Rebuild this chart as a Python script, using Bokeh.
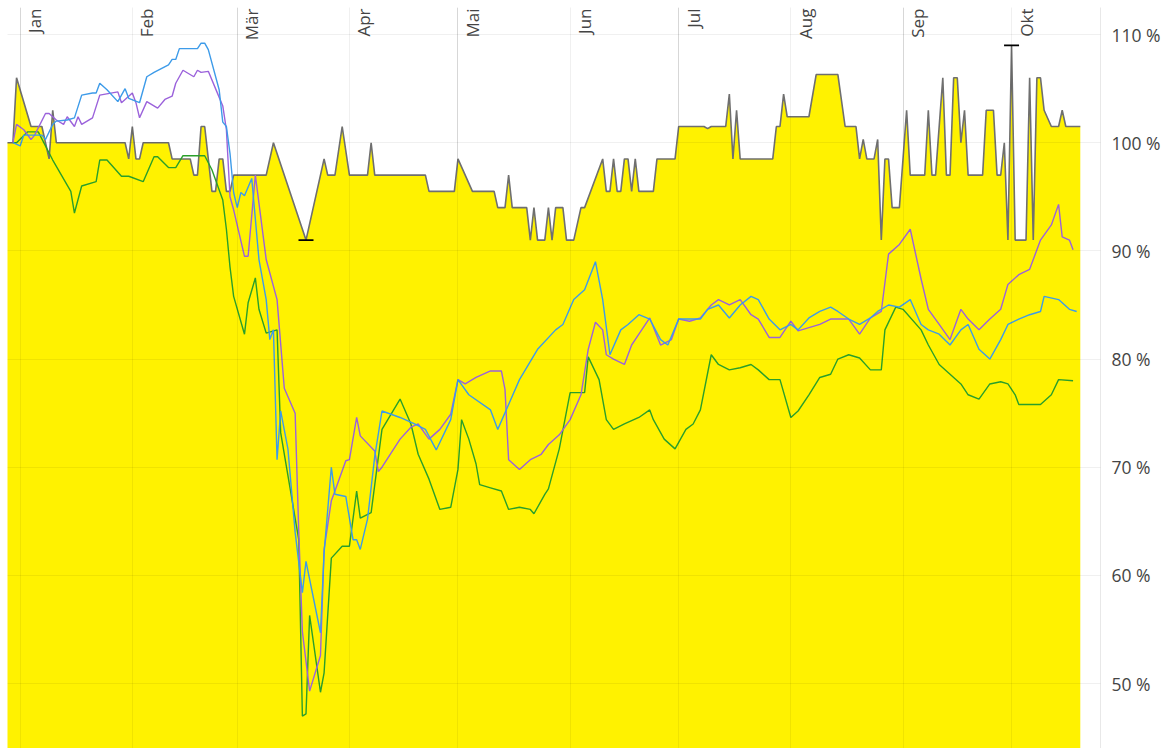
import math
import pandas as pd
from bokeh.plotting import figure
from bokeh.models import Range1d, FixedTicker, Grid, ColumnDataSource
from bokeh.core.properties import value
from bokeh.embed import file_html
from bokeh.resources import INLINE

# ---------------- data ----------------
month_starts = ["2020-01-01", "2020-02-01", "2020-03-01", "2020-04-01", "2020-05-01",
                "2020-06-01", "2020-07-01", "2020-08-01", "2020-09-01", "2020-10-01"]
month_labels = ["Jan", "Feb", "Mär", "Apr", "Mai", "Jun", "Jul", "Aug", "Sep", "Okt"]

y_ticks = [50, 60, 70, 80, 90, 100, 110]
y_tick_labels = ["50 %", "60 %", "70 %", "80 %", "90 %", "100 %", "110 %"]

gray_dates = ["2019-12-28", "2019-12-30", "2019-12-31", "2020-01-04", "2020-01-07", "2020-01-09",
              "2020-01-10", "2020-01-11", "2020-01-30", "2020-01-31", "2020-02-01", "2020-02-02",
              "2020-02-03", "2020-02-04", "2020-02-11", "2020-02-12", "2020-02-17", "2020-02-18",
              "2020-02-19", "2020-02-20", "2020-02-21", "2020-02-23", "2020-02-24", "2020-02-25",
              "2020-02-26", "2020-02-27", "2020-02-28", "2020-02-29", "2020-03-09", "2020-03-11",
              "2020-03-20", "2020-03-25", "2020-03-26", "2020-03-28", "2020-03-30", "2020-04-01",
              "2020-04-06", "2020-04-07", "2020-04-08", "2020-04-22", "2020-04-23", "2020-04-30",
              "2020-05-01", "2020-05-05", "2020-05-11", "2020-05-12", "2020-05-14", "2020-05-15",
              "2020-05-16", "2020-05-20", "2020-05-21", "2020-05-22", "2020-05-23", "2020-05-25",
              "2020-05-26", "2020-05-27", "2020-05-28", "2020-05-30", "2020-05-31", "2020-06-02",
              "2020-06-04", "2020-06-05", "2020-06-10", "2020-06-11", "2020-06-12", "2020-06-13",
              "2020-06-14", "2020-06-15", "2020-06-16", "2020-06-17", "2020-06-18", "2020-06-19",
              "2020-06-20", "2020-06-24", "2020-06-25", "2020-06-30", "2020-07-01", "2020-07-08",
              "2020-07-09", "2020-07-10", "2020-07-14", "2020-07-15", "2020-07-16", "2020-07-17",
              "2020-07-18", "2020-07-27", "2020-07-28", "2020-07-29", "2020-07-30", "2020-07-31",
              "2020-08-06", "2020-08-08", "2020-08-14", "2020-08-16", "2020-08-19", "2020-08-20",
              "2020-08-21", "2020-08-22", "2020-08-24", "2020-08-25", "2020-08-26", "2020-08-27",
              "2020-08-28", "2020-08-29", "2020-08-31", "2020-09-02", "2020-09-03", "2020-09-07",
              "2020-09-08", "2020-09-09", "2020-09-10", "2020-09-12", "2020-09-13", "2020-09-14",
              "2020-09-15", "2020-09-16", "2020-09-17", "2020-09-18", "2020-09-19", "2020-09-23",
              "2020-09-24", "2020-09-26", "2020-09-27", "2020-09-28", "2020-09-29", "2020-09-30",
              "2020-10-01", "2020-10-02", "2020-10-05", "2020-10-06", "2020-10-07", "2020-10-08",
              "2020-10-09", "2020-10-10", "2020-10-12", "2020-10-14", "2020-10-15", "2020-10-16",
              "2020-10-20"]
gray_values = [100, 100, 106, 101.5, 101.5, 98.5,
               103, 100, 100, 98.5, 101.5, 98.5,
               98.5, 100, 100, 98.5, 98.5, 97,
               97, 101.5, 101.5, 95.5, 95.5, 98.5,
               98.5, 95.5, 95.5, 97, 97, 100,
               91, 98.5, 97, 97, 101.5, 97,
               97, 100, 97, 97, 95.5, 95.5,
               98.5, 95.5, 95.5, 94, 94, 97,
               94, 94, 91, 94, 91, 91,
               94, 91, 94, 94, 91, 91,
               94, 94, 98.5, 95.5, 95.5, 98.5,
               95.5, 95.5, 98.5, 98.5, 95.5, 98.5,
               95.5, 95.5, 98.5, 98.5, 101.5, 101.5,
               101.3, 101.5, 101.5, 104.5, 98.5, 103,
               98.5, 98.5, 101.5, 101.5, 104.5, 102.4,
               102.4, 106.3, 106.3, 101.5, 101.5, 98.5,
               100.3, 98.5, 98.5, 100.3, 91, 98.5,
               98.5, 94, 94, 103, 97, 97,
               103, 97, 97, 106, 97, 97,
               106, 106, 100, 103, 97, 97,
               103, 103, 97, 97, 100, 91,
               109, 91, 91, 106, 91, 106,
               106, 103, 101.5, 101.5, 103, 101.5,
               101.5]

extreme_dates = ["2020-03-20", "2020-10-01"]
extreme_values = [91, 109]

blue_dates = ["2019-12-30", "2020-01-01", "2020-01-02", "2020-01-07", "2020-01-08", "2020-01-10",
              "2020-01-11", "2020-01-14", "2020-01-16", "2020-01-18", "2020-01-21", "2020-01-22",
              "2020-01-23", "2020-01-25", "2020-01-28", "2020-01-30", "2020-01-31", "2020-02-03",
              "2020-02-05", "2020-02-07", "2020-02-11", "2020-02-12", "2020-02-13", "2020-02-14",
              "2020-02-19", "2020-02-20", "2020-02-21", "2020-02-22", "2020-02-25", "2020-02-26",
              "2020-02-27", "2020-02-28", "2020-02-29", "2020-03-01", "2020-03-02", "2020-03-03",
              "2020-03-05", "2020-03-07", "2020-03-09", "2020-03-10", "2020-03-11", "2020-03-12",
              "2020-03-13", "2020-03-15", "2020-03-17", "2020-03-19", "2020-03-20", "2020-03-24",
              "2020-03-25", "2020-03-27", "2020-03-28", "2020-03-31", "2020-04-02", "2020-04-03",
              "2020-04-04", "2020-04-06", "2020-04-08", "2020-04-10", "2020-04-15", "2020-04-19",
              "2020-04-22", "2020-04-25", "2020-04-29", "2020-05-01", "2020-05-04", "2020-05-10",
              "2020-05-12", "2020-05-15", "2020-05-18", "2020-05-23", "2020-05-28", "2020-05-30",
              "2020-06-02", "2020-06-05", "2020-06-08", "2020-06-10", "2020-06-12", "2020-06-15",
              "2020-06-17", "2020-06-20", "2020-06-23", "2020-06-26", "2020-06-28", "2020-07-01",
              "2020-07-07", "2020-07-09", "2020-07-12", "2020-07-15", "2020-07-18", "2020-07-21",
              "2020-07-23", "2020-07-26", "2020-07-29", "2020-08-01", "2020-08-03", "2020-08-06",
              "2020-08-09", "2020-08-12", "2020-08-14", "2020-08-17", "2020-08-20", "2020-08-23",
              "2020-08-25", "2020-08-28", "2020-08-31", "2020-09-03", "2020-09-06", "2020-09-08",
              "2020-09-11", "2020-09-14", "2020-09-17", "2020-09-19", "2020-09-22", "2020-09-25",
              "2020-09-28", "2020-09-30", "2020-10-03", "2020-10-06", "2020-10-09", "2020-10-10",
              "2020-10-14", "2020-10-17", "2020-10-19"]
blue_values = [100, 99.7, 100.7, 100.7, 100.3, 101.7,
               102.0, 102.1, 102.3, 104.4, 104.6, 104.6,
               105.5, 104.9, 103.8, 105.0, 104.1, 103.7,
               106.1, 106.5, 107.2, 107.7, 107.7, 108.7,
               108.7, 109.2, 109.2, 108.6, 104.9, 101.9,
               101.5, 99.0, 95.4, 94.0, 95.4, 95.1,
               96.7, 89.2, 85.5, 81.8, 82.7, 70.7,
               75.2, 71.7, 64.0, 58.4, 61.3, 54.7,
               62.1, 70.0, 67.5, 67.3, 63.3, 63.3,
               62.4, 65.2, 71.0, 75.2, 74.6, 74.0,
               73.5, 71.6, 74.4, 78.1, 76.7, 75.3,
               73.5, 75.8, 78.1, 80.9, 82.7, 83.2,
               85.5, 86.4, 89.0, 85.5, 80.4, 82.7,
               83.2, 84.1, 83.7, 81.8, 81.3, 83.7,
               83.7, 84.6, 85.0, 83.8, 85.0, 85.8,
               85.5, 83.7, 82.7, 83.2, 82.7, 83.8,
               84.4, 84.8, 84.4, 83.7, 83.2, 83.8,
               84.4, 85.0, 84.8, 85.5, 83.2, 82.7,
               82.3, 81.3, 82.7, 83.2, 80.9, 80.0,
               81.8, 83.2, 83.7, 84.1, 84.4, 85.8,
               85.5, 84.6, 84.4]

purple_dates = ["2019-12-30", "2019-12-31", "2020-01-02", "2020-01-04", "2020-01-05", "2020-01-08",
                "2020-01-09", "2020-01-11", "2020-01-13", "2020-01-14", "2020-01-16", "2020-01-17",
                "2020-01-18", "2020-01-21", "2020-01-23", "2020-01-28", "2020-01-29", "2020-02-01",
                "2020-02-02", "2020-02-03", "2020-02-05", "2020-02-08", "2020-02-10", "2020-02-12",
                "2020-02-13", "2020-02-15", "2020-02-18", "2020-02-19", "2020-02-20", "2020-02-22",
                "2020-02-24", "2020-02-26", "2020-02-27", "2020-02-28", "2020-02-29", "2020-03-03",
                "2020-03-04", "2020-03-06", "2020-03-09", "2020-03-12", "2020-03-14", "2020-03-17",
                "2020-03-18", "2020-03-19", "2020-03-21", "2020-03-24", "2020-03-25", "2020-03-27",
                "2020-03-28", "2020-03-31", "2020-04-01", "2020-04-03", "2020-04-04", "2020-04-08",
                "2020-04-09", "2020-04-10", "2020-04-15", "2020-04-18", "2020-04-20", "2020-04-23",
                "2020-04-26", "2020-04-29", "2020-05-01", "2020-05-03", "2020-05-06", "2020-05-10",
                "2020-05-13", "2020-05-14", "2020-05-15", "2020-05-18", "2020-05-21", "2020-05-24",
                "2020-05-26", "2020-05-29", "2020-06-01", "2020-06-04", "2020-06-06", "2020-06-08",
                "2020-06-10", "2020-06-11", "2020-06-13", "2020-06-16", "2020-06-18", "2020-06-20",
                "2020-06-23", "2020-06-26", "2020-06-29", "2020-07-01", "2020-07-04", "2020-07-07",
                "2020-07-10", "2020-07-12", "2020-07-15", "2020-07-18", "2020-07-21", "2020-07-23",
                "2020-07-26", "2020-07-29", "2020-08-01", "2020-08-03", "2020-08-06", "2020-08-09",
                "2020-08-12", "2020-08-14", "2020-08-17", "2020-08-20", "2020-08-23", "2020-08-26",
                "2020-08-28", "2020-08-31", "2020-09-03", "2020-09-06", "2020-09-08", "2020-09-11",
                "2020-09-14", "2020-09-17", "2020-09-19", "2020-09-22", "2020-09-25", "2020-09-28",
                "2020-09-30", "2020-10-03", "2020-10-06", "2020-10-09", "2020-10-12", "2020-10-14",
                "2020-10-15", "2020-10-17", "2020-10-18"]
purple_values = [100, 101.7, 101.2, 100.3, 100.7, 102.7,
                 102.7, 102.1, 101.7, 102.4, 101.5, 102.4,
                 101.7, 102.3, 104.4, 104.7, 103.7, 104.6,
                 103.7, 102.3, 103.8, 103.2, 104.0, 104.3,
                 105.5, 106.7, 106.1, 106.7, 106.5, 106.6,
                 105.0, 103.4, 101.2, 95.0, 93.8, 89.5,
                 89.5, 97.0, 89.2, 85.5, 77.3, 75.0,
                 64.0, 54.8, 49.3, 52.6, 62.4, 66.9,
                 67.8, 70.6, 70.7, 74.6, 72.9, 71.5,
                 69.6, 70.0, 72.6, 73.7, 74.0, 72.6,
                 73.5, 74.9, 78.1, 77.7, 78.3, 78.9,
                 78.9, 77.2, 70.7, 69.8, 70.7, 71.2,
                 72.1, 73.0, 74.4, 76.7, 80.9, 83.4,
                 82.7, 80.4, 80.0, 79.5, 81.3, 82.3,
                 83.8, 81.3, 81.8, 83.7, 83.5, 83.8,
                 85.0, 85.5, 85.0, 85.5, 84.1, 83.7,
                 82.0, 82.0, 83.5, 82.6, 82.9, 83.2,
                 83.7, 83.7, 83.7, 82.3, 83.8, 84.4,
                 89.7, 90.6, 92.0, 87.4, 84.6, 83.2,
                 81.8, 84.6, 83.7, 82.7, 83.7, 84.6,
                 86.9, 87.8, 88.3, 91.0, 92.4, 94.3,
                 91.3, 91.0, 90.1]

green_dates = ["2019-12-30", "2019-12-31", "2020-01-03", "2020-01-06", "2020-01-10", "2020-01-15",
               "2020-01-16", "2020-01-18", "2020-01-22", "2020-01-23", "2020-01-25", "2020-01-29",
               "2020-01-31", "2020-02-04", "2020-02-07", "2020-02-08", "2020-02-11", "2020-02-13",
               "2020-02-15", "2020-02-21", "2020-02-23", "2020-02-26", "2020-02-27", "2020-02-28",
               "2020-02-29", "2020-03-03", "2020-03-04", "2020-03-06", "2020-03-07", "2020-03-09",
               "2020-03-12", "2020-03-13", "2020-03-18", "2020-03-19", "2020-03-20", "2020-03-21",
               "2020-03-24", "2020-03-25", "2020-03-27", "2020-03-30", "2020-04-01", "2020-04-03",
               "2020-04-04", "2020-04-07", "2020-04-10", "2020-04-15", "2020-04-18", "2020-04-20",
               "2020-04-23", "2020-04-26", "2020-04-29", "2020-05-01", "2020-05-02", "2020-05-04",
               "2020-05-06", "2020-05-07", "2020-05-10", "2020-05-13", "2020-05-15", "2020-05-18",
               "2020-05-21", "2020-05-22", "2020-05-25", "2020-05-26", "2020-05-29", "2020-06-01",
               "2020-06-05", "2020-06-06", "2020-06-09", "2020-06-11", "2020-06-13", "2020-06-16",
               "2020-06-20", "2020-06-23", "2020-06-24", "2020-06-27", "2020-06-30", "2020-07-03",
               "2020-07-05", "2020-07-07", "2020-07-10", "2020-07-12", "2020-07-15", "2020-07-18",
               "2020-07-21", "2020-07-23", "2020-07-26", "2020-07-29", "2020-08-01", "2020-08-03",
               "2020-08-06", "2020-08-09", "2020-08-12", "2020-08-14", "2020-08-17", "2020-08-20",
               "2020-08-23", "2020-08-26", "2020-08-27", "2020-08-30", "2020-09-01", "2020-09-06",
               "2020-09-08", "2020-09-11", "2020-09-14", "2020-09-17", "2020-09-19", "2020-09-22",
               "2020-09-25", "2020-09-28", "2020-09-30", "2020-10-02", "2020-10-03", "2020-10-09",
               "2020-10-12", "2020-10-14", "2020-10-18"]
green_values = [100, 100.0, 101.0, 101.0, 98.4, 95.5,
                93.5, 96.0, 96.4, 98.4, 98.4, 96.9,
                96.9, 96.4, 98.7, 98.7, 97.7, 97.7,
                98.8, 98.8, 97.5, 94.7, 92.0, 88.5,
                85.8, 82.3, 85.2, 87.5, 84.6, 82.4,
                82.7, 73.2, 63.3, 47.0, 47.2, 56.3,
                49.2, 51.0, 61.6, 62.7, 62.7, 67.8,
                65.3, 65.8, 73.5, 76.3, 74.0, 71.2,
                68.9, 66.1, 66.3, 69.8, 74.4, 72.6,
                70.3, 68.4, 68.1, 67.8, 66.1, 66.3,
                66.1, 65.7, 67.5, 68.0, 71.7, 76.9,
                76.9, 80.2, 78.1, 74.4, 73.5, 74.0,
                74.6, 75.3, 74.4, 72.6, 71.7, 73.5,
                74.0, 75.3, 80.4, 79.5, 79.0, 79.2,
                79.5, 79.0, 78.1, 78.1, 74.6, 75.2,
                76.7, 78.3, 78.6, 80.0, 80.4, 80.1,
                79.0, 79.0, 82.7, 84.8, 84.6, 82.7,
                81.3, 79.5, 78.6, 77.7, 76.7, 76.3,
                77.7, 77.9, 77.7, 76.7, 75.8, 75.8,
                76.7, 78.1, 78.0]

# ---------------- style ----------------
FONT = "Open Sans"
TEXT_COLOR = "#444444"
YELLOW = "#fff200"
GRAY_LINE = "#6f6f6f"
BLUE = "#3d9be9"
PURPLE = "#9b62db"
GREEN = "#2a9f2a"

x_start = pd.Timestamp("2019-12-28 12:00")
x_end = pd.Timestamp("2020-10-25 14:00")
y_start, y_end = 44.0, 112.5

p = figure(x_axis_type="datetime", x_axis_location=None, y_axis_location="right",
           frame_width=1093, frame_height=741,
           x_range=Range1d(x_start, x_end), y_range=Range1d(y_start, y_end),
           output_backend="svg", toolbar_location=None,
           min_border_left=7, min_border_top=7, min_border_bottom=0, min_border_right=4)
p.outline_line_color = None
p.background_fill_color = "white"
p.border_fill_color = "white"

# grid (drawn over the filled area, lightly)
p.ygrid.ticker = FixedTicker(ticks=y_ticks)
p.ygrid.grid_line_color = "black"
p.ygrid.grid_line_alpha = 0.06
p.ygrid.level = "annotation"
xgrid = Grid(dimension=0, ticker=FixedTicker(ticks=[pd.Timestamp(d).value / 1e6 for d in month_starts]),
             grid_line_color="black", grid_line_alpha=0.06, level="annotation")
p.add_layout(xgrid)

# right axis
ax = p.yaxis[0]
ax.ticker = FixedTicker(ticks=y_ticks)
ax.major_label_overrides = {t: l for t, l in zip(y_ticks, y_tick_labels)}
ax.major_label_text_font = FONT
ax.major_label_text_font_size = "17.5px"
ax.major_label_text_color = TEXT_COLOR
ax.major_tick_line_color = None
ax.minor_tick_line_color = None
ax.axis_line_color = "#e8e8e8"
ax.major_label_standoff = 5

# data sources
gray = ColumnDataSource(dict(x=pd.to_datetime(gray_dates), y=gray_values,
                             base=[y_start - 10] * len(gray_values)))
p.varea(x="x", y1="base", y2="y", source=gray, fill_color=YELLOW)
p.line(x="x", y="y", source=gray, line_color=GRAY_LINE, line_width=1.6)

for dates, vals, col in [(green_dates, green_values, GREEN),
                         (purple_dates, purple_values, PURPLE),
                         (blue_dates, blue_values, BLUE)]:
    p.line(x=pd.to_datetime(dates), y=vals, line_color=col, line_width=1.4)

p.dash(x=pd.to_datetime(extreme_dates), y=extreme_values, size=15,
       line_color="black", line_width=1.6)

# month labels inside the plot top
p.text(x=pd.to_datetime(month_starts), y=[y_end] * len(month_starts), text=month_labels,
       angle=math.pi / 2, text_align="right", text_baseline="top",
       x_offset=3, y_offset=1, text_font=value(FONT), text_font_size="17px",
       text_color=TEXT_COLOR)

open("out.html", "w").write(file_html(p, INLINE))
